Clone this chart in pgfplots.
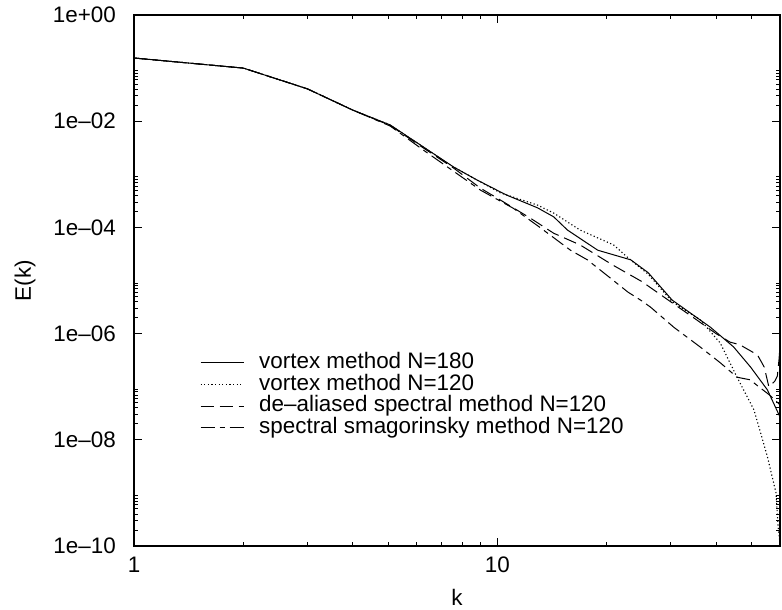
\documentclass[border=0pt]{standalone}
\usepackage{fontspec}
\setmainfont{Liberation Sans}
\usepackage{pgfplots}
\pgfplotsset{compat=1.18}
\usepackage{pgfplotstable}

% E(k) spectra
\pgfplotstableread{
k     E
1     1.55e-1
2     1.00e-1
3     4.07e-2
4     1.62e-2
5.07  8.51e-3
7.57  1.38e-3
8.81  7.76e-4
10.6  4.07e-4
12.9  2.34e-4
14.3  1.58e-4
15.6  8.91e-5
18.9  3.72e-5
23.3  2.45e-5
26    1.41e-5
30.3  4.27e-6
38.6  1.32e-6
44.7  5.62e-7
49.8  2.34e-7
55.4  8.71e-8
60    2.69e-8
}\vortexA

\pgfplotstableread{
k     E
1     1.55e-1
2     1.00e-1
3     4.07e-2
4     1.62e-2
5.07  8.51e-3
7.57  1.38e-3
8.81  7.76e-4
10.2  4.47e-4
12.9  2.63e-4
14.3  1.86e-4
16.9  8.91e-5
20.9  4.68e-5
22.8  2.75e-5
26    1.32e-5
30.3  3.98e-6
36.2  1.82e-6
41.1  6.61e-7
45.7  1.51e-7
50.9  3.63e-8
55.4  4.79e-9
58.5  1.00e-9
59.3  2.29e-10
60    1.12e-10
}\vortexB

\pgfplotstableread{
k     E
1     1.55e-1
2     1.00e-1
3     4.07e-2
4     1.62e-2
5.07  8.30e-3
6.25  3.16e-3
7.57  1.32e-3
8.98  5.50e-4
10    3.55e-4
12.3  1.51e-4
14.3  7.76e-5
16.9  4.68e-5
20.8  1.95e-5
25    9.55e-6
30    3.98e-6
35    1.91e-6
40    1.00e-6
43.7  6.92e-7
46.5  6.17e-7
52    3.98e-7
54.3  2.34e-7
55.9  1.00e-7
58    1.26e-7
59    1.58e-7
59.7  3.55e-7
60    8.91e-7
}\dealiased

\pgfplotstableread{
k     E
1     1.55e-1
2     1.00e-1
3     4.07e-2
4     1.62e-2
5.07  8.13e-3
6.25  2.88e-3
7.5   1.20e-3
9     5.01e-4
11.07 2.29e-4
13.1  1.00e-4
14.6  5.75e-5
15.9  3.72e-5
17.7  2.45e-5
20.8  1.02e-5
22.9  6.03e-6
24.8  4.27e-6
26.4  3.16e-6
30.6  1.32e-6
36.3  5.50e-7
41.1  2.82e-7
45.7  1.51e-7
49.6  1.35e-7
52.9  9.55e-8
56    7.08e-8
60    4.57e-8
}\smag

\newcommand\bigtxt{\fontsize{22.5}{26}\selectfont}

\begin{document}
\bigtxt
\begin{tikzpicture}
\begin{axis}[
    scale only axis,
    width=646bp, height=531bp,
    xmode=log, ymode=log,
    xmin=1, xmax=60,
    ymin=1e-10, ymax=1,
    xtick={1,10}, xticklabels={1,10},
    minor xtick={2,3,4,5,6,7,8,9,20,30,40,50},
    ytick={1,1e-2,1e-4,1e-6,1e-8,1e-10},
    yticklabels={1e+00,1e--02,1e--04,1e--06,1e--08,1e--10},
    minor ytick={2e-2,3e-2,4e-2,5e-2,6e-2,7e-2,8e-2,9e-2,
                 2e-4,3e-4,4e-4,5e-4,6e-4,7e-4,8e-4,9e-4,
                 2e-6,3e-6,4e-6,5e-6,6e-6,7e-6,8e-6,9e-6,
                 2e-8,3e-8,4e-8,5e-8,6e-8,7e-8,8e-8,9e-8,
                 2e-10,3e-10,4e-10,5e-10,6e-10,7e-10,8e-10,9e-10},
    tick align=inside,
    major tick length=8bp, minor tick length=4bp,
    every tick/.style={black, line width=0.8bp},
    axis line style={line width=1.1bp},
    every tick label/.append style={font=\bigtxt},
    xticklabel style={anchor=center, yshift=-19bp},
    yticklabel style={anchor=east, inner sep=0pt, xshift=-18bp},
    xlabel={k}, ylabel={E(k)},
    every axis x label/.style={at={(axis description cs:0.5,0)}, anchor=center, yshift=-51bp, font=\bigtxt},
    every axis y label/.style={at={(axis description cs:0,0.5)}, xshift=-109bp, anchor=center, rotate=90, font=\bigtxt},
    legend style={draw=none, fill=none, at={(0.102,0.3655)}, anchor=north west,
        inner sep=0pt, row sep=0.7bp, column sep=15bp,
        font=\bigtxt,
        nodes={inner sep=0pt, text height=16.4bp, text depth=4.6bp}},
    legend cell align=left,
    legend image code/.code={\draw[#1] (0bp,0bp) -- (43bp,0bp);},
]
\addplot[black, line width=1bp] table[x=k, y=E] {\vortexA};
\addlegendentry{vortex method N=180}
\addplot[black, line width=1.1bp, dash pattern=on 1.2bp off 2.4bp] table[x=k, y=E] {\vortexB};
\addlegendentry{vortex method N=120}
\addplot[black, line width=1bp, dash pattern=on 13bp off 6bp] table[x=k, y=E] {\dealiased};
\addlegendentry{de--aliased spectral method N=120}
\addplot[black, line width=1bp, dash pattern=on 14bp off 5bp on 5bp off 5bp] table[x=k, y=E] {\smag};
\addlegendentry{spectral smagorinsky method N=120}
\coordinate (A) at (rel axis cs:0,0);
\coordinate (B) at (rel axis cs:1,1);
\end{axis}
\pgfresetboundingbox
\path ([xshift=-134bp,yshift=-64bp]A) rectangle ([xshift=2bp,yshift=15bp]B);
\end{tikzpicture}
\end{document}
